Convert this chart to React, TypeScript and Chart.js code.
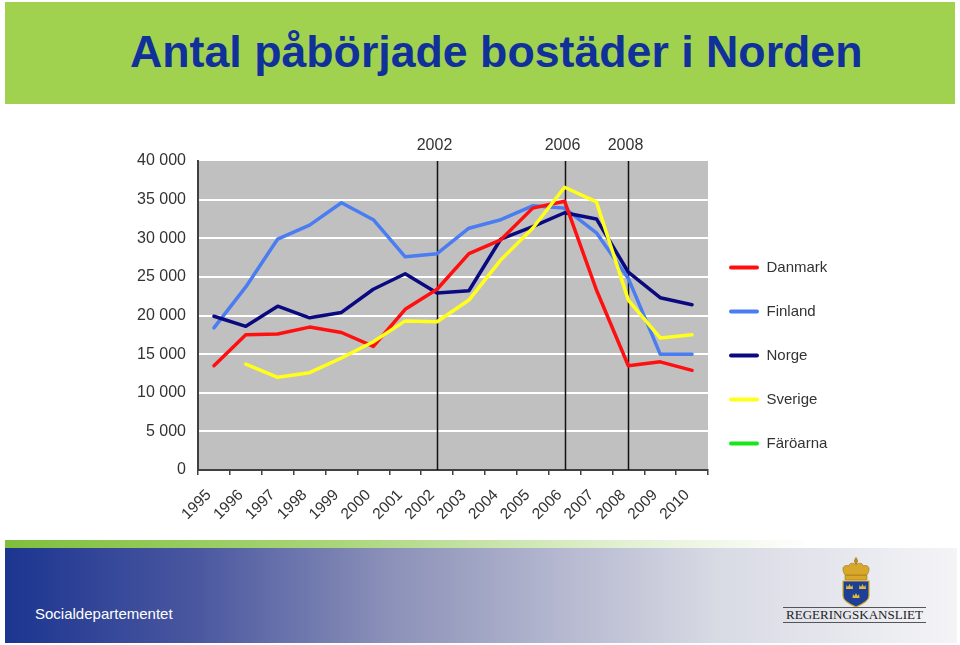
import React, { useEffect, useRef } from "react";
import { Chart, registerables } from "chart.js";

Chart.register(...registerables);

const years = ["1995", "1996", "1997", "1998", "1999", "2000", "2001", "2002", "2003", "2004", "2005", "2006", "2007", "2008", "2009", "2010"];
const danmark = [13500, 17500, 17600, 18500, 17800, 16000, 20800, 23400, 28000, 29800, 33900, 34800, 23300, 13500, 14000, 12900];
const finland = [18400, 23700, 29900, 31700, 34600, 32400, 27600, 28000, 31300, 32400, 34200, 33900, 30700, 24800, 15000, 15000];
const norge = [19900, 18600, 21200, 19700, 20400, 23400, 25400, 22900, 23200, 29900, 31500, 33300, 32500, 25600, 22300, 21400];
const sverige = [null, 13700, 12000, 12600, 14500, 16600, 19300, 19200, 22000, 27200, 31300, 36600, 34700, 22000, 17100, 17500];
const faroarna = [null, null, null, null, null, null, null, null, null, null, null, null, null, null, null, null];
const markerYears = ["2002", "2006", "2008"];
const yTickLabels = ["0", "5 000", "10 000", "15 000", "20 000", "25 000", "30 000", "35 000", "40 000"];

const FONT = '"Liberation Sans", Arial, Helvetica, sans-serif';
const TEXT = "#333333";
const AXIS = "#404040";

const plotBg = {
  id: "plotBg",
  beforeDraw(chart: any) {
    const { ctx, chartArea } = chart;
    ctx.save();
    ctx.fillStyle = "#c0c0c0";
    ctx.fillRect(chartArea.left, chartArea.top, chartArea.right - chartArea.left, chartArea.bottom - chartArea.top);
    ctx.restore();
  },
};

const yearMarkers = {
  id: "yearMarkers",
  beforeDatasetsDraw(chart: any) {
    const { ctx, chartArea } = chart;
    const x = chart.scales.x;
    ctx.save();
    markerYears.forEach((yr) => {
      const px = Math.round(x.getPixelForValue(years.indexOf(yr))) + 0.5;
      ctx.strokeStyle = "#111111";
      ctx.lineWidth = 1.5;
      ctx.beginPath();
      ctx.moveTo(px, chartArea.top);
      ctx.lineTo(px, chartArea.bottom);
      ctx.stroke();
      ctx.fillStyle = TEXT;
      ctx.font = `16px ${FONT}`;
      ctx.textAlign = "center";
      ctx.textBaseline = "middle";
      ctx.fillText(yr, px - 3, chartArea.top - 15);
    });
    ctx.restore();
  },
};

const legendShift = {
  id: "legendShift",
  afterLayout(chart: any) {
    if (chart.legend) {
      chart.legend.left -= 8;
      chart.legend.right -= 8;
    }
  },
};

function ChartCanvas() {
  const ref = useRef<HTMLCanvasElement | null>(null);
  useEffect(() => {
    if (!ref.current) return;
    const mk = (label: string, data: any[], color: string, order: number) => ({
      label,
      data,
      borderColor: color,
      backgroundColor: color,
      borderWidth: 3.5,
      pointRadius: 0,
      tension: 0,
      fill: false,
      borderJoinStyle: "round" as const,
      borderCapStyle: "round" as const,
      order,
    });
    const chart = new Chart(ref.current, {
      type: "line",
      data: {
        labels: years,
        datasets: [
          mk("Danmark", danmark, "#ff1010", 1),
          mk("Finland", finland, "#4a7cf2", 3),
          mk("Norge", norge, "#0a0a80", 2),
          mk("Sverige", sverige, "#ffff1a", 0),
          mk("Färöarna", faroarna, "#19e619", 4),
        ],
      },
      options: {
        responsive: false,
        animation: false,
        layout: { padding: { top: 161, left: 136, right: 122, bottom: 95 } },
        plugins: {
          title: { display: false },
          tooltip: { enabled: false },
          legend: {
            position: "right",
            align: "center",
            maxWidth: 130,
            labels: {
              boxWidth: 30,
              boxHeight: 4,
              padding: 29,
              color: TEXT,
              font: { size: 15, family: FONT },
              useBorderRadius: true,
              borderRadius: 2,
              sort: (a: any, b: any) => a.datasetIndex - b.datasetIndex,
              generateLabels: (c: any) =>
                (Chart.defaults.plugins.legend.labels as any).generateLabels(c).map((l: any) => ({ ...l, lineWidth: 0, hidden: false })),
            },
          },
        },
        scales: {
          x: {
            type: "category",
            offset: true,
            afterFit: (s: any) => {
              s.height = 80;
            },
            grid: {
              offset: true,
              drawOnChartArea: false,
              drawTicks: true,
              tickLength: 5,
              color: AXIS,
              lineWidth: 1.5,
            },
            border: { display: true, color: AXIS, width: 2 },
            ticks: {
              color: TEXT,
              font: { size: 15.5, family: FONT },
              minRotation: 45,
              maxRotation: 45,
              autoSkip: false,
              padding: 11,
              labelOffset: -5,
            },
          },
          y: {
            min: 0,
            max: 40000,
            afterFit: (s: any) => {
              s.width = 62;
            },
            grid: {
              drawTicks: false,
              color: (ctx: any) => (ctx.tick && (ctx.tick.value === 0 || ctx.tick.value === 40000) ? "rgba(0,0,0,0)" : "#ffffff"),
              lineWidth: 2,
            },
            border: { display: true, color: AXIS, width: 2 },
            ticks: {
              stepSize: 5000,
              padding: 12,
              color: TEXT,
              font: { size: 16, family: FONT },
              callback: (_v: any, i: number) => yTickLabels[i],
            },
          },
        },
      },
      plugins: [plotBg, yearMarkers, legendShift],
    });
    return () => chart.destroy();
  }, []);
  return <canvas ref={ref} width={960} height={645} style={{ position: "absolute", left: 0, top: 0, width: 960, height: 645 }} />;
}

function SmallCrown({ x, y }: { x: number; y: number }) {
  return <path d={`M${x} ${y + 4} L${x + 0.5} ${y} L${x + 2} ${y + 2} L${x + 3.5} ${y - 1} L${x + 5} ${y + 2} L${x + 6.5} ${y} L${x + 7} ${y + 4} Z`} />;
}

function Logo() {
  return (
    <svg width={960} height={645} style={{ position: "absolute", left: 0, top: 0 }}>
      {/* crown */}
      <g fill="#d8a82c" stroke="#9c7212" strokeWidth={0.6}>
        <rect x={845} y={575} width={22} height={5} rx={1} />
        <path d="M845 575 C841 569 843 564 849 566 C849 563 853 562 856 565 C859 562 863 563 863 566 C869 564 871 569 867 575 Z" />
        <circle cx={856} cy={561} r={1.8} />
        <rect x={855.2} y={558} width={1.6} height={6} />
      </g>
      {/* shield */}
      <path d="M843 581 L869 581 L869 596 C869 600 863 604 856 607 C849 604 843 600 843 596 Z" fill="#1d3f94" stroke="#d8a82c" strokeWidth={1.2} />
      <g fill="#e6b83c">
        <SmallCrown x={846} y={585} />
        <SmallCrown x={859} y={585} />
        <SmallCrown x={852.5} y={594} />
      </g>
      <line x1={783} y1={607.5} x2={926} y2={607.5} stroke="#555" strokeWidth={1} />
      <line x1={783} y1={622.5} x2={926} y2={622.5} stroke="#555" strokeWidth={1} />
      <text x={786} y={619} fontFamily='"Liberation Serif", "DejaVu Serif", serif' fontSize={13} fill="#222" textLength={137} lengthAdjust="spacingAndGlyphs">
        REGERINGSKANSLIET
      </text>
    </svg>
  );
}

export default function App() {
  return (
    <div style={{ position: "fixed", left: 0, top: 0, width: 960, height: 645, background: "#ffffff", overflow: "hidden", fontFamily: FONT }}>
      <div style={{ position: "absolute", left: 5, top: 2, width: 950, height: 102, background: "#a0d250" }} />
      <div style={{ position: "absolute", left: 130, top: 29, fontSize: 44.7, lineHeight: "45px", fontWeight: "bold", color: "#10309a", whiteSpace: "nowrap" }}>
        Antal påbörjade bostäder i Norden
      </div>
      <div style={{ position: "absolute", left: 5, top: 540, width: 950, height: 8, background: "linear-gradient(to right, #7fbf3c 0%, #a9d67a 35%, #e2f0d2 65%, #ffffff 85%)" }} />
      <div style={{ position: "absolute", left: 5, top: 548, width: 952, height: 95, background: "linear-gradient(to right, #1c3590 0%, #4a57a0 20%, #8a90b8 40%, #b4b7cf 58%, #d8dae4 75%, #f4f4f7 100%)" }} />
      <div style={{ position: "absolute", left: 35, top: 605, fontSize: 15, lineHeight: "18px", color: "#ffffff", whiteSpace: "nowrap" }}>Socialdepartementet</div>
      <Logo />
      <ChartCanvas />
    </div>
  );
}
